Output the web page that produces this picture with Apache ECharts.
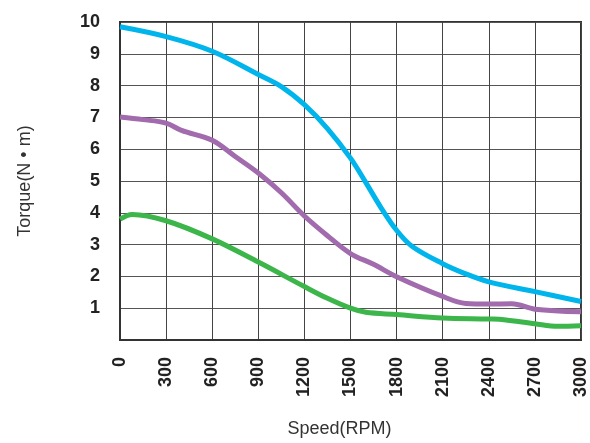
<!DOCTYPE html>
<html>
<head>
<meta charset="utf-8">
<script src="https://cdn.jsdelivr.net/npm/echarts@6/dist/echarts.min.js"></script>
<style>html,body{margin:0;padding:0;background:#fff}#c{width:590px;height:443px}</style>
</head>
<body>
<div id="c"></div>
<script>
var xTicks = [0,300,600,900,1200,1500,1800,2100,2400,2700,3000];
var yTicks = [1,2,3,4,5,6,7,8,9,10];

var blueX = [0,300,600,900,1050,1200,1350,1500,1600,1700,1800,1900,2100,2250,2400,2700,3000];
var blueY = [9.85,9.54,9.08,8.35,7.97,7.40,6.65,5.72,4.95,4.15,3.45,2.95,2.40,2.08,1.83,1.52,1.21];

var purpleX = [0,150,300,400,600,750,900,1050,1200,1350,1500,1650,1800,2100,2250,2400,2550,2700,3000];
var purpleY = [7.01,6.93,6.82,6.59,6.28,5.77,5.25,4.63,3.90,3.28,2.72,2.38,1.99,1.37,1.15,1.13,1.14,0.97,0.89];

var greenX = [0,80,300,600,900,1200,1350,1500,1600,1800,2100,2400,2500,2700,2850,3000];
var greenY = [3.80,3.95,3.75,3.18,2.45,1.68,1.31,1.00,0.87,0.80,0.69,0.66,0.64,0.51,0.43,0.45];

function pairs(xs, ys){ return xs.map(function(x,i){ return [x, ys[i]]; }); }

var chart = echarts.init(document.getElementById('c'));
var lineSeries = function(name, xs, ys, color){
  return {name:name, type:'line', data:pairs(xs,ys), smooth:0.35, showSymbol:false,
    lineStyle:{color:color, width:5}, z:3};
};
chart.setOption({
  animation:false,
  grid:{left:120, right:8, top:22, bottom:99, show:true, borderColor:'#333', borderWidth:2},
  xAxis:{type:'value', min:0, max:3000, interval:300,
    name:'Speed(RPM)', nameLocation:'middle', nameGap:80,
    nameTextStyle:{fontFamily:'Liberation Sans', fontSize:18, color:'#333', padding:[0,22,0,0]},
    axisLine:{lineStyle:{color:'#333', width:2}}, axisTick:{show:false},
    axisLabel:{rotate:90, margin:17, fontFamily:'Liberation Sans', fontWeight:'bold', fontSize:18, color:'#222',
      formatter:function(v){ return xTicks.indexOf(v) >= 0 ? String(v) : ''; }},
    splitLine:{show:true, lineStyle:{color:'#444', width:1}}},
  yAxis:{type:'value', min:0, max:10, interval:1,
    name:'Torque(N • m)', nameLocation:'middle', nameGap:86, nameRotate:90,
    nameTextStyle:{fontFamily:'Liberation Sans', fontSize:18, color:'#333'},
    axisLine:{lineStyle:{color:'#333', width:2}}, axisTick:{show:false},
    axisLabel:{margin:20, fontFamily:'Liberation Sans', fontWeight:'bold', fontSize:18, color:'#222',
      formatter:function(v){ return yTicks.indexOf(v) >= 0 ? String(v) : ''; }},
    splitLine:{show:true, lineStyle:{color:'#555', width:1}}},
  series:[
    lineSeries('blue', blueX, blueY, '#00b4ec'),
    lineSeries('purple', purpleX, purpleY, '#a16bad'),
    lineSeries('green', greenX, greenY, '#3cb54a')
  ]
});
</script>
</body>
</html>
